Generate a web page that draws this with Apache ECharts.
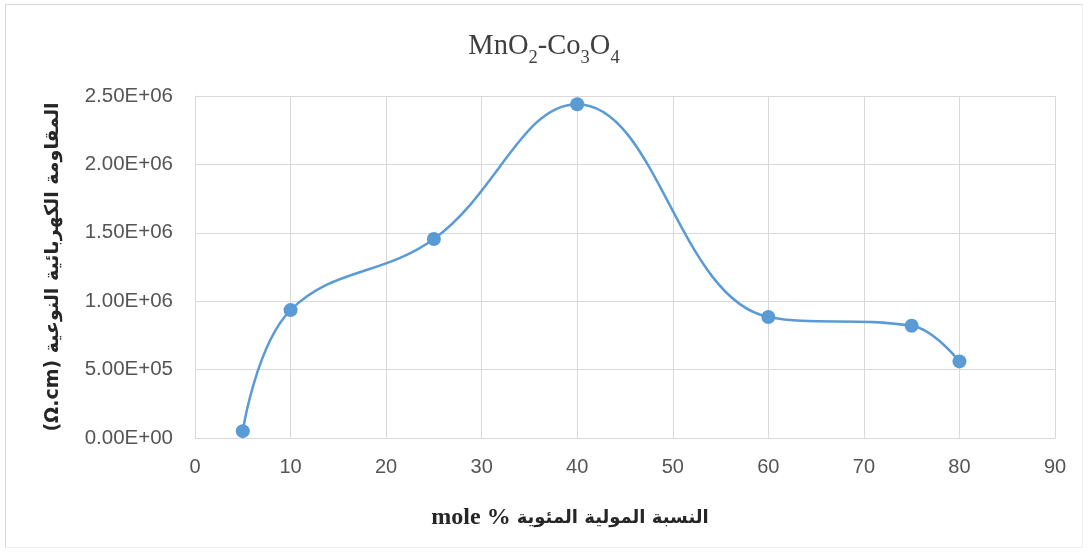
<!DOCTYPE html>
<html><head><meta charset="utf-8">
<script src="https://cdn.jsdelivr.net/npm/echarts@6/dist/echarts.min.js"></script>
<style>
html,body{margin:0;padding:0;background:#fff;}
#wrap{position:absolute;left:5px;top:4px;width:1078px;height:544px;border:1px solid #d9d9d9;border-right-color:#f0f0f0;border-bottom-color:#f0f0f0;box-sizing:border-box;}
#c{position:absolute;left:0;top:0;width:1088px;height:552px;}
</style></head>
<body><div id="wrap"></div><div id="c"></div>
<script>
const xValues = [5, 10, 25, 40, 60, 75, 80];
const yValues = [5.0e4, 9.35e5, 1.455e6, 2.44e6, 8.85e5, 8.2e5, 5.6e5];
const titleText = '{a|MnO}{s|2}{a|-Co}{s|3}{a|O}{s|4}';
const yName = '(Ω.cm) المقاومة الكهربائية النوعية';
const xNameLatin = 'mole %';
const xNameArabic = 'النسبة المولية المئوية';

const chart = echarts.init(document.getElementById('c'), null, {renderer:'canvas'});
const data = xValues.map((x,i)=>[x, yValues[i]]);
chart.setOption({
  animation:false,
  title:{
    text: titleText, left:'center', top:24,
    padding:[5,0,5,14],
    textStyle:{
      rich:{
        a:{fontFamily:'Liberation Serif', fontWeight:'normal', fontSize:28.5, color:'#404040', verticalAlign:'bottom', lineHeight:32},
        s:{fontFamily:'Liberation Serif', fontWeight:'normal', fontSize:18.5, color:'#404040', verticalAlign:'bottom', lineHeight:32, padding:[0,0,-7,0]}
      }
    }
  },
  grid:{left:195, right:33, top:96, bottom:114, containLabel:false},
  xAxis:{
    type:'value', min:0, max:90, interval:10,
    axisLine:{show:true, lineStyle:{color:'#d9d9d9', width:1}},
    axisTick:{show:false},
    splitLine:{show:true, lineStyle:{color:'#d9d9d9', width:1}},
    axisLabel:{color:'#555555', fontFamily:'Liberation Sans', fontSize:20, margin:19},
    name: '{l|' + xNameLatin + ' }{r|' + xNameArabic + '}',
    nameLocation:'middle', nameGap:68,
    nameTextStyle:{
      padding:[0,110,0,0],
      rich:{
        l:{fontFamily:'Liberation Serif', fontWeight:'bold', fontSize:24, color:'#262626'},
        r:{fontFamily:'DejaVu Sans', fontWeight:'bold', fontSize:18, color:'#262626'}
      }
    }
  },
  yAxis:{
    type:'value', min:0, max:2.5e6, interval:5e5,
    axisLine:{show:true, lineStyle:{color:'#d9d9d9', width:1}},
    axisTick:{show:false},
    splitLine:{show:true, lineStyle:{color:'#d9d9d9', width:1}},
    axisLabel:{color:'#555555', fontFamily:'Liberation Sans', fontSize:20.5, margin:22,
      formatter: v => { const s = v.toExponential(2).toUpperCase(); return s.replace(/E([+-])(\d)$/, 'E$10$2'); }},
    name: yName, nameLocation:'middle', nameGap:132, nameRotate:90,
    nameTextStyle:{fontFamily:'DejaVu Sans', fontWeight:'bold', fontSize:19, color:'#262626'}
  },
  series:[{
    type:'line', data:data, smooth:0.4, smoothConstraint:false,
    symbol:'circle', symbolSize:14,
    lineStyle:{color:'#5b9bd5', width:2.5},
    itemStyle:{color:'#5b9bd5'}
  }]
});
</script>
</body></html>
